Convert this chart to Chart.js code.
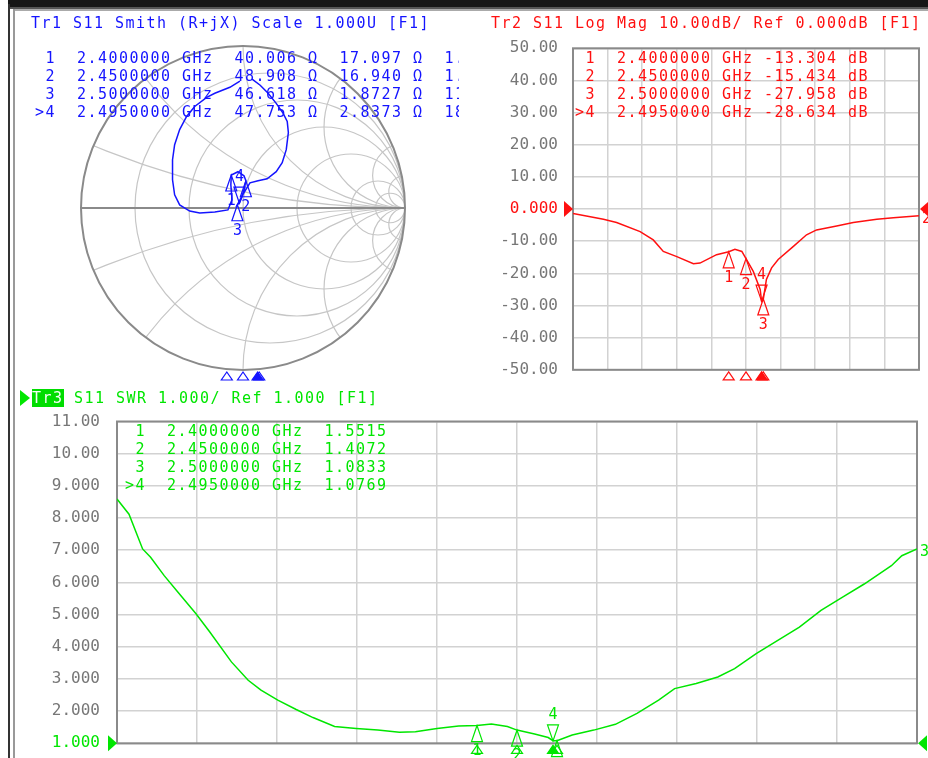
<!DOCTYPE html>
<html>
<head>
<meta charset="utf-8">
<script src="https://cdn.jsdelivr.net/npm/chart.js@4.4.0/dist/chart.umd.min.js"></script>
<style>
  html, body { margin: 0; padding: 0; background: #fff; }
  #page { position: relative; width: 928px; height: 758px; overflow: hidden; background: #fff; }
  canvas { position: absolute; }
  .txt {
    position: absolute; z-index: 2; white-space: pre; overflow: hidden;
    font-family: "DejaVu Sans Mono", monospace; font-size: 15px; line-height: 18px; letter-spacing: 1.47px;
  }
  .blue { color: #1414ff; }
  .red { color: #ff1010; }
  .green { color: #00e600; }
  .hl { background: #00dd00; color: #f4fff4; }
  #topbar { position: absolute; left: 8px; top: 0; width: 920px; height: 7px; background: #161616; }
  #topbar2 { position: absolute; left: 8px; top: 7px; width: 920px; height: 2px; background: #555; }
  #topbar3 { position: absolute; left: 13px; top: 9px; width: 915px; height: 2px; background: #aaa; }
  #leftbar { position: absolute; left: 8px; top: 4px; width: 2px; height: 754px; background: #333; }
  #leftbar2 { position: absolute; left: 13px; top: 9px; width: 2px; height: 749px; background: #999; }
  #tr3arrow {
    position: absolute; left: 20px; top: 390px; width: 0; height: 0;
    border-top: 8px solid transparent; border-bottom: 8px solid transparent; border-left: 10px solid #00e600;
  }
</style>
</head>
<body>
<div id="page">
  <div id="topbar"></div><div id="topbar2"></div><div id="topbar3"></div>
  <div id="leftbar"></div><div id="leftbar2"></div>

  <canvas id="smith" width="442" height="385" style="left:28px;top:0px;width:442px;height:385px"></canvas>
  <canvas id="logmag" width="458" height="355" style="left:470px;top:30px;width:458px;height:355px"></canvas>
  <canvas id="swr" width="900" height="376" style="left:28px;top:385px;width:900px;height:376px"></canvas>

  <div class="txt blue" style="left:31px;top:14px">Tr1 S11 Smith (R+jX) Scale 1.000U [F1]</div>
  <div class="txt blue" id="smithTable" style="left:35px;top:49px;width:424px"></div>

  <div class="txt red" style="left:491px;top:14px">Tr2 S11 Log Mag 10.00dB/ Ref 0.000dB [F1]</div>
  <div class="txt red" id="logTable" style="left:575px;top:49px"></div>

  <div id="tr3arrow"></div>
  <div class="txt green" style="left:32px;top:389px"><span class="hl">Tr3</span> S11 SWR 1.000/ Ref 1.000 [F1]</div>
  <div class="txt green" id="swrTable" style="left:125px;top:422px"></div>
</div>

<script>
const MONO = '"DejaVu Sans Mono", monospace';
const BLUE = '#1414ff';
const RED = '#ff1010';
const GREEN = '#00e600';
const GRAY = '#777777';
const GRID = '#d2d2d2';
const FRAME = '#8a8a8a';

// sweep 1.95 .. 2.95 GHz, 100 MHz/div
const FREQ_START = 1.95;
const FREQ_STOP = 2.95;
const FREQ_GRID = [1.95, 2.05, 2.15, 2.25, 2.35, 2.45, 2.55, 2.65, 2.75, 2.85, 2.95];

// Tr2 log mag (GHz, dB)
const LOGMAG_FREQ = [1.950, 2.038, 2.076, 2.144, 2.182, 2.211, 2.250, 2.298, 2.317, 2.365,
  2.400, 2.418, 2.438, 2.450, 2.471, 2.491, 2.495, 2.500, 2.509, 2.524,
  2.543, 2.587, 2.625, 2.654, 2.712, 2.760, 2.828, 2.876, 2.950];
const LOGMAG_DB = [-1.4, -3.2, -4.2, -7.0, -9.6, -13.2, -14.8, -17.0, -16.8, -14.2,
  -13.3, -12.5, -13.2, -15.4, -19.4, -25.0, -28.6, -28.0, -21.9, -18.3,
  -15.7, -11.6, -8.0, -6.5, -5.3, -4.2, -3.2, -2.7, -2.1];

// Tr3 SWR (GHz, ratio)
const SWR_FREQ = [1.950, 1.965, 1.982, 1.992, 2.009, 2.026, 2.049, 2.066, 2.093, 2.114,
  2.130, 2.151, 2.174, 2.195, 2.222, 2.249, 2.276, 2.303, 2.323, 2.350,
  2.377, 2.400, 2.418, 2.438, 2.450, 2.472, 2.489, 2.495, 2.500, 2.519,
  2.546, 2.573, 2.600, 2.627, 2.647, 2.674, 2.701, 2.722, 2.749, 2.776,
  2.803, 2.830, 2.857, 2.884, 2.918, 2.931, 2.950];
const SWR_VALS = [8.59, 8.12, 7.04, 6.78, 6.21, 5.70, 5.02, 4.46, 3.53, 2.96,
  2.65, 2.34, 2.05, 1.80, 1.52, 1.46, 1.41, 1.34, 1.36, 1.46,
  1.54, 1.55, 1.60, 1.52, 1.41, 1.29, 1.18, 1.08, 1.08, 1.26,
  1.41, 1.59, 1.93, 2.34, 2.70, 2.86, 3.06, 3.32, 3.79, 4.20,
  4.61, 5.13, 5.54, 5.95, 6.52, 6.83, 7.04];

// Tr1 Smith trace, reflection coefficient (re, im)
const SMITH_RE = [-0.019, -0.081, -0.174, -0.224, -0.298, -0.348, -0.391, -0.422, -0.435, -0.435,
  -0.422, -0.391, -0.329, -0.267, -0.174, -0.093, -0.068, -0.075, -0.072, -0.031,
  0.006, 0.018, 0.000, -0.022, -0.035, -0.006, 0.043, 0.093, 0.149, 0.205,
  0.242, 0.267, 0.280, 0.273, 0.248, 0.205, 0.155, 0.106, 0.056];
const SMITH_IM = [0.783, 0.745, 0.708, 0.683, 0.627, 0.565, 0.484, 0.391, 0.298, 0.174,
  0.081, 0.019, -0.019, -0.031, -0.025, -0.012, 0.050, 0.143, 0.204, 0.224,
  0.199, 0.168, 0.081, 0.030, 0.020, 0.075, 0.155, 0.168, 0.180, 0.224,
  0.280, 0.360, 0.466, 0.534, 0.584, 0.646, 0.708, 0.758, 0.795];

const SMITH_R_CIRCLES = [0.2, 0.5, 1, 2, 5, 10];
const SMITH_X_ARCS = [0.2, 0.5, 1, 2, 5, 10];

// markers (index 3 is the active one)
const MARKER_NAMES = ['1', '2', '3', '4'];
const MARKER_FREQ = [2.40, 2.45, 2.50, 2.495];
const MARKER_R = [40.006, 48.908, 46.618, 47.753];
const MARKER_X = [17.097, 16.940, 1.8727, 2.8373];
const MARKER_L = ['1.1338 nH', '1.1004 nH', '119.22 pH', '180.99 pH'];
const MARKER_DB = [-13.304, -15.434, -27.958, -28.634];
const MARKER_SWR = [1.5515, 1.4072, 1.0833, 1.0769];
const ACTIVE_MARKER = 3;
const Z0 = 50;

Chart.defaults.font.family = MONO;

// tiny lineHeight so the tick labels add no vertical padding to the plot area
const TICK_FONT = { family: MONO, size: 16, lineHeight: 0.01 };

function mlabel(i) {
  return (i === ACTIVE_MARKER ? '>' : ' ') + MARKER_NAMES[i];
}
function five(v) {
  return Math.abs(v) >= 10 ? v.toFixed(3) : v.toFixed(4);
}

document.getElementById('smithTable').textContent = MARKER_NAMES.map((n, i) =>
  `${mlabel(i)}  ${MARKER_FREQ[i].toFixed(7)} GHz  ${five(MARKER_R[i])} Ω  ${five(MARKER_X[i])} Ω  ${MARKER_L[i]}`).join('\n');
document.getElementById('logTable').textContent = MARKER_NAMES.map((n, i) =>
  `${mlabel(i)}  ${MARKER_FREQ[i].toFixed(7)} GHz ${MARKER_DB[i].toFixed(3)} dB`).join('\n');
document.getElementById('swrTable').textContent = MARKER_NAMES.map((n, i) =>
  `${mlabel(i)}  ${MARKER_FREQ[i].toFixed(7)} GHz  ${MARKER_SWR[i].toFixed(4)}`).join('\n');

// ---- drawing helpers ----
function tri(ctx, x, y, down, filled, color, w, h) {
  const dir = down ? -1 : 1;
  ctx.beginPath();
  ctx.moveTo(x, y);
  ctx.lineTo(x - w / 2, y + dir * h);
  ctx.lineTo(x + w / 2, y + dir * h);
  ctx.closePath();
  ctx.strokeStyle = color;
  ctx.lineWidth = 1.2;
  if (filled) { ctx.fillStyle = color; ctx.fill(); }
  ctx.stroke();
}

function drawMarkers(ctx, pts, color) {
  ctx.save();
  ctx.font = '15px ' + MONO;
  ctx.textAlign = 'center';
  ctx.textBaseline = 'middle';
  pts.forEach((p, i) => {
    const down = i === ACTIVE_MARKER;
    tri(ctx, p.x, p.y, down, false, color, 11, 16);
    ctx.fillStyle = color;
    ctx.fillText(MARKER_NAMES[i], p.x, down ? p.y - 26 : p.y + 26);
  });
  ctx.restore();
}

function drawStimulus(ctx, xs, bottom, color) {
  ctx.save();
  xs.forEach((x, i) => tri(ctx, x, bottom + 2, false, i === ACTIVE_MARKER, color, 11, 8));
  ctx.restore();
}

function drawFrame(chart) {
  const { ctx, chartArea: a } = chart;
  ctx.save();
  ctx.strokeStyle = FRAME;
  ctx.lineWidth = 2;
  ctx.strokeRect(a.left, a.top, a.right - a.left, a.bottom - a.top);
  ctx.restore();
}

function drawRefArrows(chart, refVal, color, traceNo, endVal) {
  const { ctx, chartArea: a } = chart;
  const y = chart.scales.y.getPixelForValue(refVal);
  ctx.save();
  ctx.fillStyle = color;
  ctx.beginPath();
  ctx.moveTo(a.left, y); ctx.lineTo(a.left - 9, y - 8); ctx.lineTo(a.left - 9, y + 8); ctx.closePath();
  ctx.fill();
  ctx.beginPath();
  ctx.moveTo(a.right + 1, y); ctx.lineTo(a.right + 10, y - 8); ctx.lineTo(a.right + 10, y + 8); ctx.closePath();
  ctx.fill();
  ctx.font = '15px ' + MONO;
  ctx.textBaseline = 'middle';
  ctx.fillText(traceNo, a.right + 3, chart.scales.y.getPixelForValue(endVal) + 3);
  ctx.restore();
}

// ---- Tr1 Smith ----
const smithGrid = {
  id: 'smithGrid',
  beforeDatasetsDraw(chart) {
    const { ctx } = chart;
    const px = v => chart.scales.x.getPixelForValue(v);
    const py = v => chart.scales.y.getPixelForValue(v);
    const unit = px(1) - px(0);
    ctx.save();
    ctx.beginPath();
    ctx.arc(px(0), py(0), unit, 0, Math.PI * 2);
    ctx.clip();
    ctx.strokeStyle = '#c6c6c6';
    ctx.lineWidth = 1.2;
    SMITH_R_CIRCLES.forEach(r => {
      ctx.beginPath();
      ctx.arc(px(r / (r + 1)), py(0), unit / (r + 1), 0, Math.PI * 2);
      ctx.stroke();
    });
    SMITH_X_ARCS.forEach(x => {
      [1, -1].forEach(s => {
        ctx.beginPath();
        ctx.arc(px(1), py(s / x), unit / x, 0, Math.PI * 2);
        ctx.stroke();
      });
    });
    ctx.restore();
    ctx.save();
    ctx.strokeStyle = FRAME;
    ctx.lineWidth = 2;
    ctx.beginPath();
    ctx.arc(px(0), py(0), unit, 0, Math.PI * 2);
    ctx.stroke();
    ctx.beginPath();
    ctx.moveTo(px(-1), py(0));
    ctx.lineTo(px(1), py(0));
    ctx.stroke();
    ctx.restore();
  },
  afterDatasetsDraw(chart) {
    const pts = MARKER_R.map((r, i) => {
      const zr = r / Z0, zi = MARKER_X[i] / Z0;
      const den = (zr + 1) * (zr + 1) + zi * zi;
      const gr = (zr * zr + zi * zi - 1) / den;
      const gi = 2 * zi / den;
      return { x: chart.scales.x.getPixelForValue(gr), y: chart.scales.y.getPixelForValue(gi) };
    });
    drawMarkers(chart.ctx, pts, BLUE);
    drawStimulus(chart.ctx, MARKER_FREQ.map(f => chart.scales.f.getPixelForValue(f)), chart.chartArea.bottom, BLUE);
  }
};

new Chart(document.getElementById('smith'), {
  type: 'scatter',
  data: {
    datasets: [{
      data: SMITH_RE.map((re, i) => ({ x: re, y: SMITH_IM[i] })),
      showLine: true,
      borderColor: BLUE,
      borderWidth: 1.5,
      pointRadius: 0,
    }],
  },
  options: {
    responsive: false,
    animation: false,
    layout: { padding: { left: 53, top: 46, right: 65, bottom: 15 } },
    plugins: { legend: { display: false }, tooltip: { enabled: false } },
    scales: {
      x: { min: -1, max: 1, display: false },
      y: { min: -1, max: 1, display: false },
      f: { type: 'linear', axis: 'x', min: FREQ_START, max: FREQ_STOP, display: false },
    },
  },
  plugins: [smithGrid],
});

// ---- Tr2 log mag ----
new Chart(document.getElementById('logmag'), {
  type: 'line',
  data: {
    datasets: [{
      data: LOGMAG_FREQ.map((f, i) => ({ x: f, y: LOGMAG_DB[i] })),
      borderColor: RED,
      borderWidth: 1.5,
      pointRadius: 0,
      tension: 0,
    }],
  },
  options: {
    responsive: false,
    animation: false,
    layout: { padding: { left: 0, top: 18.3, right: 9, bottom: 15.2 } },
    plugins: { legend: { display: false }, tooltip: { enabled: false } },
    scales: {
      x: {
        type: 'linear', min: FREQ_START, max: FREQ_STOP,
        afterBuildTicks: a => { a.ticks = FREQ_GRID.map(v => ({ value: v })); },
        ticks: { display: false },
        grid: { color: GRID, lineWidth: 1.5, drawTicks: false },
        border: { display: false },
        afterFit: s => { s.height = 0; },
      },
      y: {
        min: -50, max: 50,
        ticks: {
          stepSize: 10, padding: 15, autoSkip: false,
          color: c => c.tick && c.tick.value === 0 ? RED : GRAY,
          font: TICK_FONT,
          callback: v => v === 0 ? '0.000' : v.toFixed(2),
        },
        grid: { color: GRID, lineWidth: 1.5, drawTicks: false },
        border: { display: false },
        afterFit: s => { s.width = 103; },
      },
    },
  },
  plugins: [{
    id: 'logDecor',
    beforeDatasetsDraw: drawFrame,
    afterDatasetsDraw(chart) {
      const pts = MARKER_FREQ.map((f, i) => ({
        x: chart.scales.x.getPixelForValue(f),
        y: chart.scales.y.getPixelForValue(MARKER_DB[i]),
      }));
      drawMarkers(chart.ctx, pts, RED);
      drawStimulus(chart.ctx, pts.map(p => p.x), chart.chartArea.bottom, RED);
      drawRefArrows(chart, 0, RED, '2', LOGMAG_DB[LOGMAG_DB.length - 1]);
    },
  }],
});

// ---- Tr3 SWR ----
new Chart(document.getElementById('swr'), {
  type: 'line',
  data: {
    datasets: [{
      data: SWR_FREQ.map((f, i) => ({ x: f, y: SWR_VALS[i] })),
      borderColor: GREEN,
      borderWidth: 1.5,
      pointRadius: 0,
      tension: 0,
    }],
  },
  options: {
    responsive: false,
    animation: false,
    layout: { padding: { left: 0, top: 36.5, right: 11, bottom: 17.7 } },
    plugins: { legend: { display: false }, tooltip: { enabled: false } },
    scales: {
      x: {
        type: 'linear', min: FREQ_START, max: FREQ_STOP,
        afterBuildTicks: a => { a.ticks = FREQ_GRID.map(v => ({ value: v })); },
        ticks: { display: false },
        grid: { color: GRID, lineWidth: 1.5, drawTicks: false },
        border: { display: false },
        afterFit: s => { s.height = 0; },
      },
      y: {
        min: 1, max: 11,
        ticks: {
          stepSize: 1, padding: 17, autoSkip: false,
          color: c => c.tick && c.tick.value === 1 ? GREEN : GRAY,
          font: TICK_FONT,
          callback: v => v >= 10 ? v.toFixed(2) : v.toFixed(3),
        },
        grid: { color: GRID, lineWidth: 1.5, drawTicks: false },
        border: { display: false },
        afterFit: s => { s.width = 89; },
      },
    },
  },
  plugins: [{
    id: 'swrDecor',
    beforeDatasetsDraw: drawFrame,
    afterDatasetsDraw(chart) {
      const pts = MARKER_FREQ.map((f, i) => ({
        x: chart.scales.x.getPixelForValue(f),
        y: chart.scales.y.getPixelForValue(MARKER_SWR[i]),
      }));
      drawMarkers(chart.ctx, pts, GREEN);
      drawStimulus(chart.ctx, pts.map(p => p.x), chart.chartArea.bottom, GREEN);
      drawRefArrows(chart, 1, GREEN, '3', SWR_VALS[SWR_VALS.length - 1]);
    },
  }],
});
</script>
</body>
</html>
